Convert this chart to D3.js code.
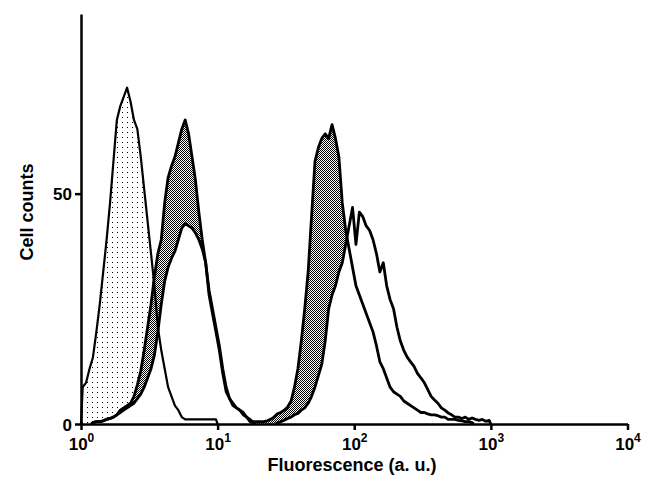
<!DOCTYPE html>
<html>
<head>
<meta charset="utf-8">
<script src="https://cdn.jsdelivr.net/npm/d3@7"></script>
<style>
	body { margin: 0; background: #fff; }
	text { font-family: "Liberation Sans", Arial, sans-serif; font-weight: bold; fill: #000; }
</style>
</head>
<body>
<div id="chart"></div>
<script>
// log channels, 40 per decade (channel 0 = 10^0)
let channelsPerDecade = 40;

// unstained control (dotted)
let controlStart	= 0;
let controlCounts	= [8, 9, 12, 14.5, 20, 26, 33, 40, 48, 57, 66, 69, 71, 73, 70, 66, 64, 58, 51, 44,
	37, 30, 21, 16, 12, 8, 6, 4, 3, 1.5, 1, 1, 1, 1, 1, 1, 1, 1, 1, 1];

// low peak, grey filled
let grayLowStart	= 3;
let grayLowCounts	= [0.3, 0.5, 0.5, 0.7, 1, 1.2, 1.5, 2, 3, 3.5, 4, 4.5, 6, 8.5, 11.5, 16, 21, 26, 32, 37,
	40, 48, 53.5, 56, 58, 61, 64, 66, 63, 58, 53, 46, 40, 35, 28, 24, 20, 16, 11, 7,
	5.5, 4, 3.5, 3, 2, 1.5, 0.5, 0.3];

// low peak, open
let openLowStart	= 3;
let openLowCounts	= [0.3, 0.5, 0.5, 0.7, 1, 1.2, 1.5, 2, 2.5, 3, 3.5, 4, 4.5, 5.5, 6.5, 8, 10, 12, 15, 20,
	26, 31, 34, 36, 37.5, 40, 42.5, 43.5, 43, 42.5, 41.5, 40, 38, 35, 29, 25, 21, 17, 12, 8,
	5.5, 4.5, 3.5, 3, 2.5, 1.5, 1, 0.3];

// high peak, grey filled
let grayHighStart	= 50;
let grayHighCounts	= [0.5, 0.5, 0.5, 0.5, 0.7, 1, 1.5, 2.2, 2.5, 3, 3.7, 5, 8, 12, 18, 25, 33, 45, 57, 60,
	62, 63, 62, 65, 62, 58, 48, 42, 38, 34, 30, 28, 26, 24, 22, 20, 17, 13.5, 12, 10,
	8, 7, 6.5, 6, 5, 4.5, 4, 3.5, 3, 2.5, 2.5, 2.2, 2, 2, 1.8, 1.5, 1.5, 1, 1, 1,
	0.8, 0.7, 0.5, 0.5, 0.3];

// high peak, open
let openHighStart	= 57;
let openHighCounts	= [0.2, 0.5, 0.8, 1.2, 1.5, 2, 2.3, 3, 3.5, 4.5, 6, 8, 10.5, 13, 18, 25, 28, 30, 33, 35,
	39, 43, 47, 39, 46, 45, 43, 42, 40, 37, 33, 35, 30, 27, 25, 21, 18, 16, 14.5, 13.5,
	12.5, 11, 10, 9, 7.5, 6, 5.2, 4.5, 3.5, 3, 2.4, 2, 1.5, 1.5, 1.2, 1.5, 1, 1.3, 1, 0.8,
	1, 0.6, 0.8];

let xTickExponents	= [0, 1, 2, 3, 4];
let yTicks			= [0, 50];

let canvasWidth		= 648;
let canvasHeight	= 477;

let x = d3.scaleLog().domain([1, 10000]).range([81, 627.5]);
let y = d3.scaleLinear().domain([0, 89]).range([424, 14]);

let svg = d3.select("#chart").append("svg")
	.attr("width", canvasWidth)
	.attr("height", canvasHeight);

let defs = svg.append("defs");

let dots = defs.append("pattern")
	.attr("id", "dots")
	.attr("patternUnits", "userSpaceOnUse")
	.attr("width", 5).attr("height", 5);
dots.append("rect").attr("width", 5).attr("height", 5).attr("fill", "#fff");
dots.append("rect").attr("x", 2).attr("y", 2).attr("width", 1).attr("height", 1).attr("fill", "#000");

let checker = defs.append("pattern")
	.attr("id", "checker")
	.attr("patternUnits", "userSpaceOnUse")
	.attr("width", 2).attr("height", 2);
checker.append("rect").attr("width", 2).attr("height", 2).attr("fill", "#fff");
checker.append("rect").attr("width", 1).attr("height", 1).attr("fill", "#000");
checker.append("rect").attr("x", 1).attr("y", 1).attr("width", 1).attr("height", 1).attr("fill", "#000");

let channelValue = (ch) => Math.pow(10, ch / channelsPerDecade);

function toPoints(start, counts) {
	let pts = [{ f: channelValue(start), c: 0 }];
	counts.forEach((c, i) => pts.push({ f: channelValue(start + i + 0.5), c: c }));
	pts.push({ f: channelValue(start + counts.length), c: 0 });
	return pts;
}

let series = [
	{ pts: toPoints(controlStart, controlCounts), fill: "url(#dots)", width: 2.2 },
	{ pts: toPoints(grayLowStart, grayLowCounts), fill: "url(#checker)", width: 2.8 },
	{ pts: toPoints(grayHighStart, grayHighCounts), fill: "url(#checker)", width: 2.8 },
	{ pts: toPoints(openLowStart, openLowCounts), fill: "#fff", width: 2.8 },
	{ pts: toPoints(openHighStart, openHighCounts), fill: "#fff", width: 2.8 }
];

let area = d3.area().x((o) => x(o.f)).y0(y(0)).y1((o) => y(o.c));
let line = d3.line().x((o) => x(o.f)).y((o) => y(o.c));

let plot = svg.append("g").attr("class", "plot");

plot.selectAll(".fill").data(series).enter().append("path")
	.attr("class", "fill")
	.attr("d", (o) => area(o.pts))
	.attr("fill", (o) => o.fill)
	.attr("stroke", "none");

plot.selectAll(".outline").data(series).enter().append("path")
	.attr("class", "outline")
	.attr("d", (o) => line(o.pts))
	.attr("fill", "none")
	.attr("stroke", "#000")
	.attr("stroke-width", (o) => o.width)
	.attr("stroke-linejoin", "round");

// axes
let xAxis = svg.append("g")
	.attr("class", "x axis")
	.attr("transform", "translate(0," + y(0) + ")")
	.call(d3.axisBottom(x).tickValues(xTickExponents.map((e) => Math.pow(10, e))).tickSize(6).tickSizeOuter(0).tickFormat(""));

xAxis.selectAll(".tick").append("text")
	.attr("y", 26)
	.attr("text-anchor", "middle")
	.style("font-size", "17px")
	.each(function (d) {
		let t = d3.select(this);
		t.append("tspan").text("10");
		t.append("tspan").attr("dy", -8).style("font-size", "12px").text(Math.round(Math.log10(d)));
	});

let yAxis = svg.append("g")
	.attr("class", "y axis")
	.attr("transform", "translate(" + x(1) + ",0)")
	.call(d3.axisLeft(y).tickValues(yTicks).tickSize(6).tickSizeOuter(0));

yAxis.selectAll(".tick text")
	.attr("x", -9)
	.attr("dy", "0.36em")
	.style("font-size", "17px");

svg.selectAll(".axis path, .axis line")
	.attr("stroke", "#000")
	.attr("stroke-width", 2.5);

svg.selectAll(".axis text").attr("fill", "#000").style("font-family", null);

svg.append("text")
	.attr("x", 352)
	.attr("y", 471)
	.attr("text-anchor", "middle")
	.style("font-size", "18px")
	.text("Fluorescence (a. u.)");

svg.append("text")
	.attr("transform", "translate(33,212) rotate(-90)")
	.attr("text-anchor", "middle")
	.style("font-size", "18px")
	.text("Cell counts");
</script>
</body>
</html>
